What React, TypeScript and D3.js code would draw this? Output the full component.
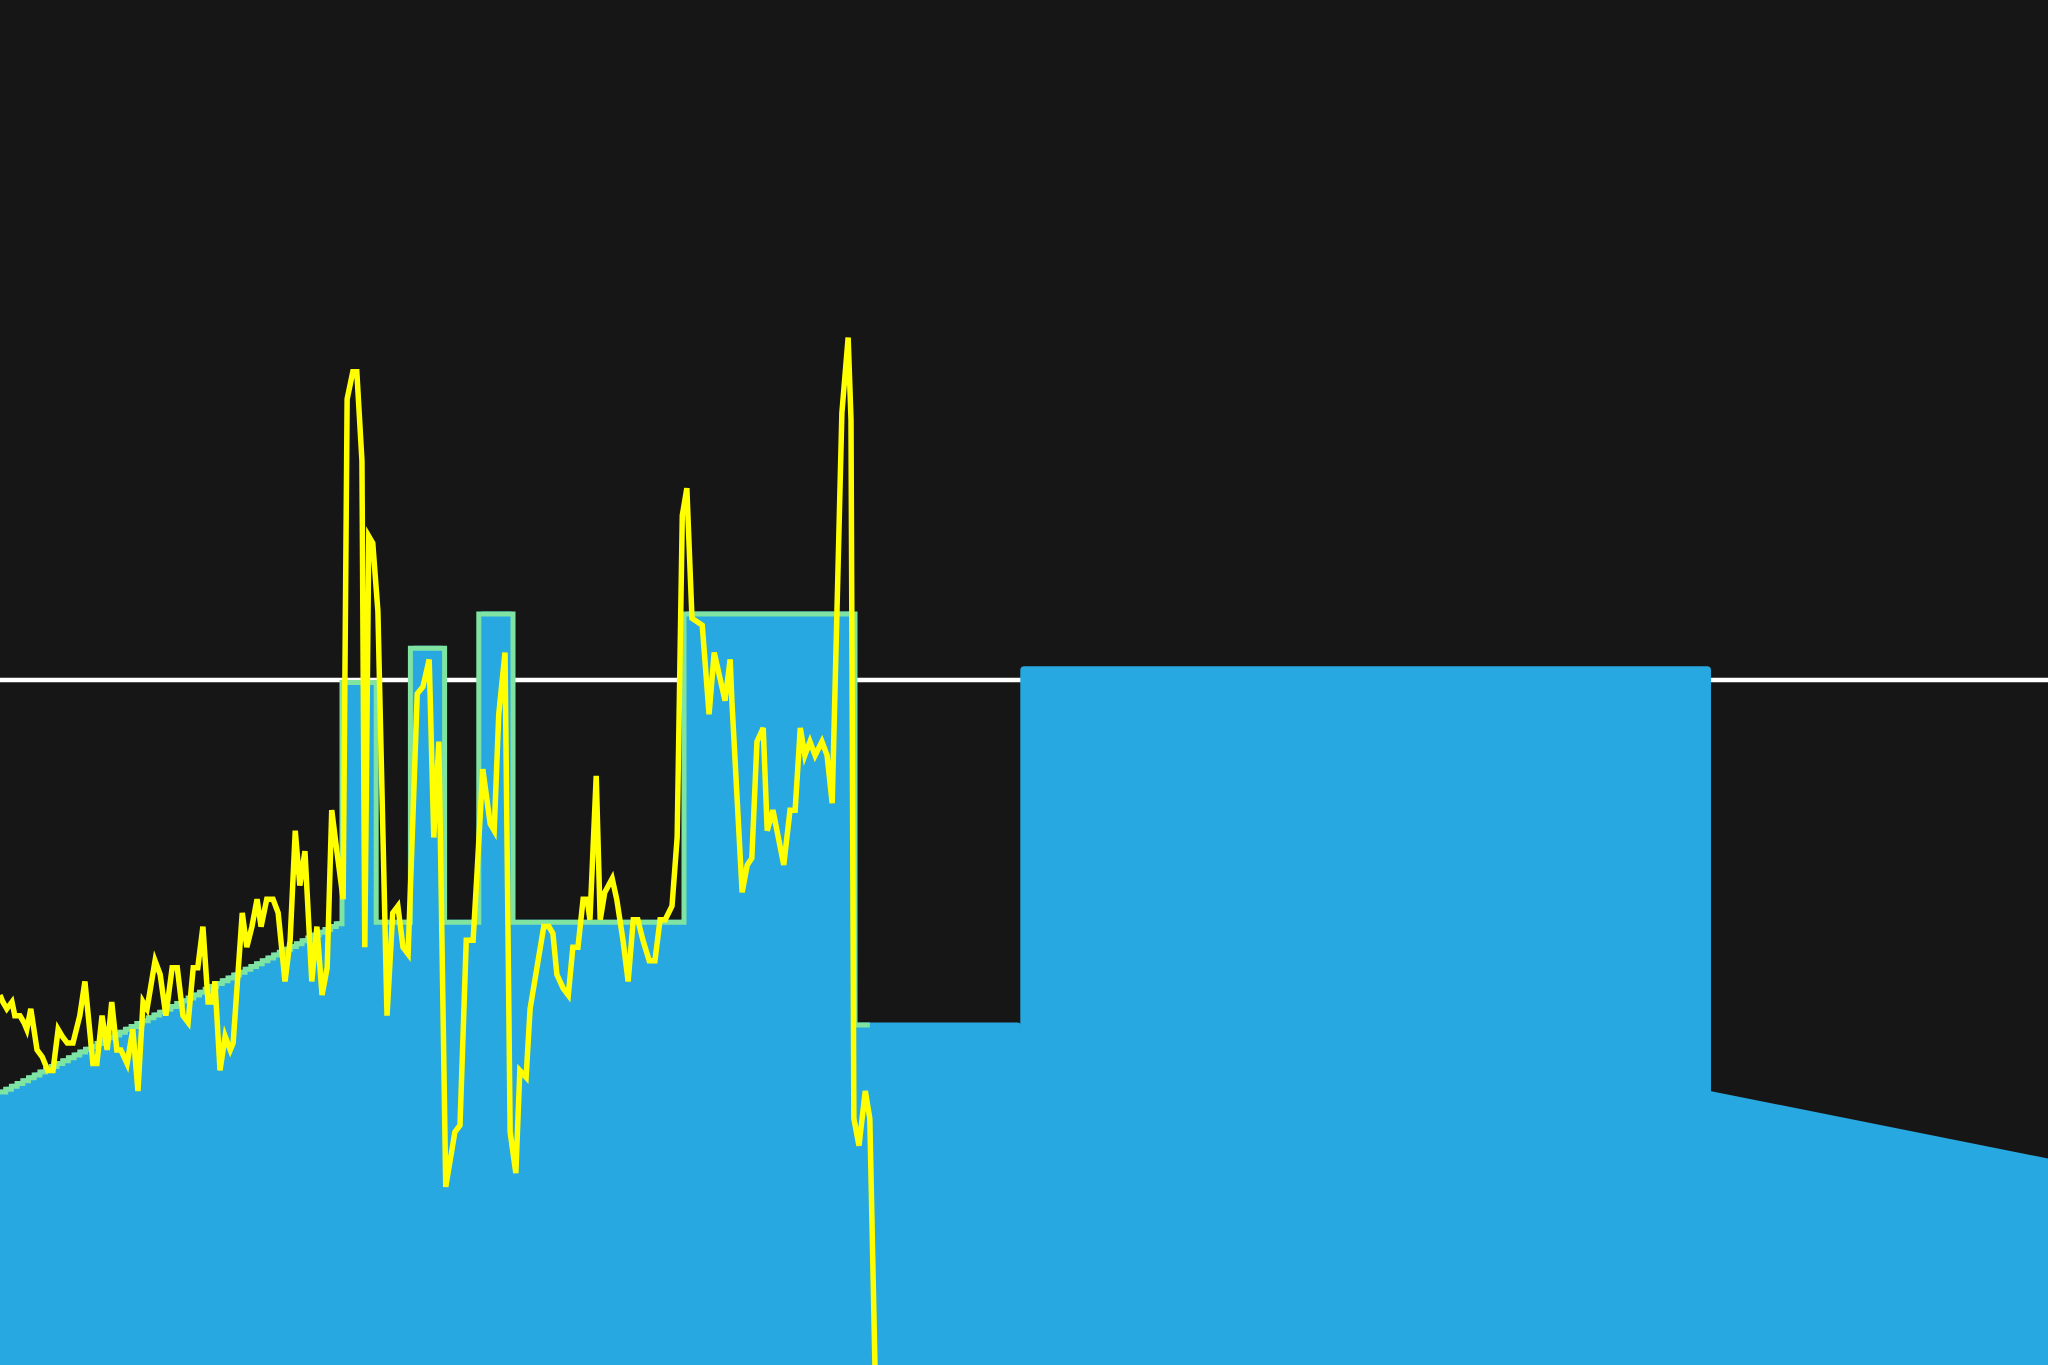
import * as d3 from "d3";
import React from "react";

const W = 2048;
const H = 1365;

// workout intervals (seconds, % FTP)
const segStart = [0, 600, 660, 720, 780, 840, 900, 1200, 1500, 1790, 3000];
const segEnd = [600, 660, 720, 780, 840, 900, 1200, 1500, 1790, 3000, 3600];
const segFrom = [40, 100, 65, 105, 65, 110, 65, 110, 50, 102, 40];
const segTo = [65, 100, 65, 105, 65, 110, 65, 110, 50, 102, 30];

const ftp = 100;
const elapsed = 1526; // seconds ridden so far
const rampStep = 10; // ridden ramps are shown in 10s steps

// recorded power (seconds, % FTP)
const powerTime = [
  0, 5, 12, 21, 26, 35, 42, 47, 54, 65,
  74, 84, 93, 102, 109, 118, 128, 140, 149, 163,
  170, 179, 188, 196, 205, 212, 223, 233, 242, 251,
  258, 272, 281, 291, 302, 311, 321, 330, 339, 347,
  356, 365, 372, 377, 386, 395, 404, 409, 425, 433,
  442, 451, 458, 468, 479, 488, 500, 509, 518, 526,
  535, 547, 556, 565, 574, 582, 591, 602, 609, 619,
  626, 635, 640, 647, 654, 663, 679, 689, 698, 707,
  716, 732, 742, 753, 761, 770, 782, 798, 807, 818,
  830, 837, 847, 860, 867, 875, 886, 895, 905, 912,
  923, 930, 954, 963, 970, 977, 988, 997, 1005, 1014,
  1023, 1030, 1035, 1046, 1053, 1061, 1074, 1082, 1093, 1102,
  1111, 1119, 1128, 1139, 1149, 1158, 1167, 1179, 1188, 1197,
  1205, 1214, 1232, 1244, 1253, 1272, 1281, 1284, 1302, 1311,
  1319, 1328, 1339, 1346, 1356, 1375, 1386, 1395, 1404, 1412,
  1421, 1430, 1442, 1451, 1460, 1477, 1488, 1493, 1498, 1507,
  1518, 1526, 1535,
];
const powerValue = [
  54, 53, 52, 53, 51, 51, 50, 49, 52, 46,
  45, 43, 43, 49, 48, 47, 47, 51, 56, 44,
  44, 51, 46, 53, 46, 46, 44, 49, 40, 53,
  52, 59, 57, 51, 58, 58, 51, 50, 58, 58,
  64, 53, 53, 56, 43, 48, 46, 47, 66, 61,
  64, 68, 64, 68, 68, 66, 56, 62, 78, 70,
  75, 56, 64, 54, 58, 81, 75, 68, 141, 145,
  145, 132, 61, 121, 120, 110, 51, 66, 67, 61,
  60, 98, 99, 103, 77, 91, 26, 34, 35, 62,
  62, 72, 87, 79, 78, 95, 104, 34, 28, 43,
  42, 52, 64, 64, 63, 57, 55, 54, 61, 61,
  68, 68, 65, 86, 65, 69, 71, 68, 62, 56,
  65, 65, 62, 59, 59, 65, 65, 67, 77, 124,
  128, 109, 108, 95, 104, 97, 103, 97, 69, 73,
  74, 91, 93, 78, 81, 73, 81, 81, 93, 89,
  91, 89, 91, 89, 82, 139, 150, 138, 36, 32,
  40, 36, 0,
];

const x = d3.scaleLinear().domain([0, 3593]).range([0, W]);
const y = d3.scaleLinear().domain([0, 100]).range([H, 680]);

// top profile of one interval, as [time, power] points (step-after)
function profile(i) {
  const s = segStart[i], e = segEnd[i], a = segFrom[i], b = segTo[i];
  if (a === b) return { stepped: true, pts: [[s, a], [e, a]] };
  if (s < elapsed) {
    const pts = d3.range(s, e, rampStep).map((t) => [t, a + ((b - a) * (t + rampStep / 2 - s)) / (e - s)]);
    pts.push([e, pts[pts.length - 1][1]]);
    return { stepped: true, pts };
  }
  return { stepped: false, pts: [[s, a], [e, b]] };
}

// flat interval with rounded top corners, overlapping the next one a bit to hide seams
function blockPath(i) {
  const x0 = x(segStart[i]), x1 = x(segEnd[i]) + 1, yt = y(segFrom[i]);
  const r = 4;
  return `M${x0},${H} V${yt + r} Q${x0},${yt} ${x0 + r},${yt} H${x1 - r} Q${x1},${yt} ${x1},${yt + r} V${H} Z`;
}

export default function App() {
  const area = d3.area().x((d) => x(d[0])).y0(H).y1((d) => y(d[1]));

  const blocks = segStart.map((_, i) => {
    const p = profile(i);
    if (segFrom[i] === segTo[i]) return blockPath(i);
    const pts = p.pts.map((d, k) => (k === p.pts.length - 1 ? [d[0] + 2, d[1]] : d));
    return area.curve(p.stepped ? d3.curveStepAfter : d3.curveLinear)(pts);
  });

  // ridden outline
  const done = [];
  segStart.forEach((s, i) => {
    if (s >= elapsed) return;
    profile(i).pts.forEach((d) => {
      if (d[0] < elapsed) done.push(d);
    });
  });
  done.push([elapsed, done[done.length - 1][1]]);
  const outline = d3
    .line()
    .x((d) => x(d[0]))
    .y((d) => y(d[1]) + 2.5)
    .curve(d3.curveStepAfter)(done);

  const power = d3
    .line()
    .x((d) => x(d[0]))
    .y((d) => y(d[1]))(powerTime.map((t, i) => [t, powerValue[i]]));

  return (
    <>
      <style>{"body{margin:0;background:#161616;overflow:hidden}"}</style>
      <svg width={W} height={H} style={{ display: "block", background: "#161616" }}>
        <line x1={0} x2={W} y1={y(ftp)} y2={y(ftp)} stroke="#ffffff" strokeWidth={4.5} />
        <g className="blocks">
          {blocks.map((d, i) => (
            <path key={i} d={d} fill="#28a8e0" />
          ))}
        </g>
        <path d={outline} fill="none" stroke="#7fe3a2" strokeWidth={5} />
        <path d={power} fill="none" stroke="#ffff00" strokeWidth={5.5} strokeLinejoin="miter" />
      </svg>
    </>
  );
}
